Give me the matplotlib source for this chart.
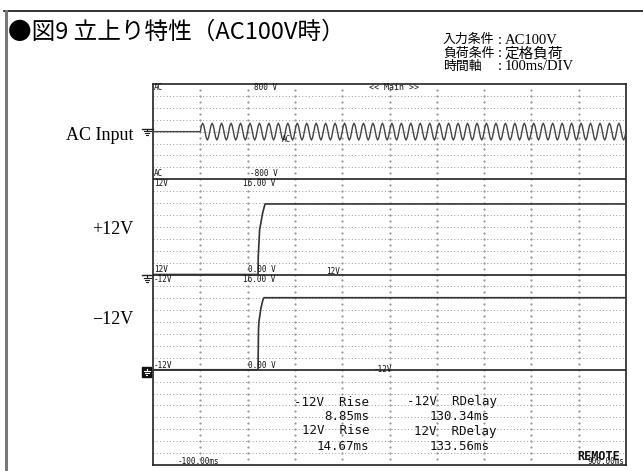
import numpy as np
import matplotlib.pyplot as plt
from matplotlib.patches import Rectangle

W, H = 643, 471

# recorder time axis, 100 ms/DIV
t_min, t_max = -100, 900

# AC input: one 20 ms cycle, repeated after switch-on
ac_start_ms = 0
ac_period_ms = 20
ac_cycles = 45
ac_cycle_v = [0, 100, 141, 100, 0, -100, -141, -100]

# +12V output (V) vs time (ms)
p12_t = [-100, 122, 122.5, 125.4, 131.7, 136.8, 900]
p12_v = [0, 0, 3, 7.5, 10.3, 11.85, 11.85]

# -12V output, shown as magnitude (V)
n12_t = [-100, 122, 123, 124, 128.3, 132.6, 134.7, 900]
n12_v = [0, 0, 6.7, 8.1, 10.4, 11.8, 12.1, 12.1]

# measurement readouts
meas_left = ["-12V  Rise", "8.85ms", "12V  Rise", "14.67ms"]
meas_right = ["-12V  RDelay", "130.34ms", "12V  RDelay", "133.56ms"]

title = "●図9 立上り特性（AC100V時）"
cond_keys = ["入力条件", "負荷条件", "時間軸"]
cond_vals = ["AC100V", "定格負荷", "100ms/DIV"]

MONO = "DejaVu Sans Mono"
SERIF = ["Liberation Serif", "Noto Sans CJK JP"]

fig = plt.figure(figsize=(W / 100, H / 100), dpi=100)
fig.patch.set_facecolor("white")

# pixel overlay for frame, labels and markers
ov = fig.add_axes([0, 0, 1, 1], zorder=3)
ov.set_xlim(0, W)
ov.set_ylim(H, 0)
ov.axis("off")
ov.patch.set_visible(False)

# scope screen: x in ms, y in divisions (32 div tall, 8 per panel)
sx0, sx1, sy0, sy1 = 153, 626, 84, 465
ax = fig.add_axes([sx0 / W, (H - sy1) / H, (sx1 - sx0) / W, (sy1 - sy0) / H], zorder=2)
ax.set_xlim(t_min, t_max)
ax.set_ylim(0, 32)
ax.set_xticks([])
ax.set_yticks([])
for s in ax.spines.values():
  s.set_color("#222")
  s.set_linewidth(1.2)

# grid
for k in range(1, 32):
  if k % 8:
    ax.axhline(k, color="#999", lw=0.7, ls=(0, (1, 2.4)), zorder=1)
gx = np.arange(t_min + 100, t_max, 100)
gy = np.arange(0.5, 32, 0.5)
for x in gx:
  ax.plot(np.full_like(gy, x), gy, ls="none", marker="s", ms=0.6, color="#999", zorder=1)
for k in (8, 16, 24):
  ax.axhline(k, color="#333", lw=1.3, zorder=2)

# AC trace (200 V/DIV, centre at div 28)
ac_v = np.tile(ac_cycle_v, ac_cycles)
ac_t = ac_start_ms + np.arange(len(ac_v)) * ac_period_ms / len(ac_cycle_v)
ac_t = np.concatenate([[t_min, ac_start_ms], ac_t, [ac_t[-1] + ac_period_ms / len(ac_cycle_v)]])
ac_v = np.concatenate([[0, 0], ac_v, [0]])
ax.plot(ac_t, 28 + ac_v / 200, color="#444", lw=1.0, zorder=3)

# +12V and -12V traces (2 V/DIV)
ax.plot(p12_t, 16 + np.array(p12_v) / 2, color="#333", lw=1.2, zorder=3)
ax.plot(n12_t, 8 + np.array(n12_v) / 2, color="#333", lw=1.2, zorder=3)

# screen texts (pixel positions)
small = dict(family=MONO, fontsize=5.5, color="#111", va="center")
ov.text(154, 88, "AC", ha="left", **small)
ov.text(277, 88, "800 V", ha="right", **small)
ov.text(394, 88, "<< Main >>", ha="center", fontsize=6, family=MONO, va="center", color="#111")
ov.text(286, 139, "AC", ha="center", **small)
ov.text(154, 174, "AC", ha="left", **small)
ov.text(278, 174, "-800 V", ha="right", **small)
ov.text(154, 183, "12V", ha="left", **small)
ov.text(275, 183, "16.00 V", ha="right", **small)
ov.text(154, 270, "12V", ha="left", **small)
ov.text(276, 270, "0.00 V", ha="right", **small)
ov.text(333, 272, "12V", ha="center", **small)
ov.text(154, 280, "-12V", ha="left", **small)
ov.text(275, 280, "16.00 V", ha="right", **small)
ov.text(154, 365, "-12V", ha="left", **small)
ov.text(276, 365, "0.00 V", ha="right", **small)
ov.text(383, 370, "-12V", ha="center", **small)
ov.text(178, 462, "-100.00ms", ha="left", **small)
ov.text(624, 462, "900.00ms", ha="right", **small)
ov.text(620, 456, "REMOTE", ha="right", va="center", family=MONO, fontsize=8.5,
        fontweight="bold", color="#111")

big = dict(family=MONO, fontsize=9, color="#111", va="center", ha="right")
for txt, y in zip(meas_left, [402, 417, 431, 446]):
  ov.text(369, y, txt, **big)
for txt, y in zip(meas_right, [402, 417, 431, 446]):
  ov.text(497 if "RDelay" in txt else 490, y, txt, **big)

# channel labels to the left of the screen
for txt, y in zip(["AC Input", "+12V", "\u221212V"], [135, 229, 320]):
  ov.text(133, y, txt, ha="right", va="center", family="Liberation Serif", fontsize=13)

# ground markers
def ground(x, y, col="#222"):
  ov.plot([x - 5, sx0], [y, y], color=col, lw=1)
  ov.plot([x, x], [y, y + 2.5], color=col, lw=0.8)
  for dy, hw in [(2.5, 3.5), (4.5, 2.3), (6.5, 1.0)]:
    ov.plot([x - hw, x + hw], [y + dy, y + dy], color=col, lw=0.8)

ground(147, 128.5)
ground(147, 275)
ov.add_patch(Rectangle((142, 367), 9, 10, color="#111"))
ov.plot([146.5, 146.5], [368.5, 371], color="white", lw=0.8)
for dy, hw in [(371, 3), (373, 2), (375, 0.8)]:
  ov.plot([146.5 - hw, 146.5 + hw], [dy, dy], color="white", lw=0.8)

# page frame
ov.plot([4, W], [11, 11], color="#111", lw=1.2)
ov.plot([5.5, 5.5], [11, H], color="#777", lw=2.2)

# title and conditions
ov.text(8, 32, title, ha="left", va="center", family="Noto Sans CJK JP", fontsize=17)
for k, v, y in zip(cond_keys, cond_vals, [40, 53.5, 67]):
  ov.text(443, y, k, ha="left", va="center", family=SERIF, fontsize=9.3)
  ov.text(500, y, ":", ha="center", va="center", family=SERIF, fontsize=10.5)
  ov.text(505, y, v, ha="left", va="center", family=SERIF, fontsize=10.5)

fig.savefig("out.png", dpi=100)
